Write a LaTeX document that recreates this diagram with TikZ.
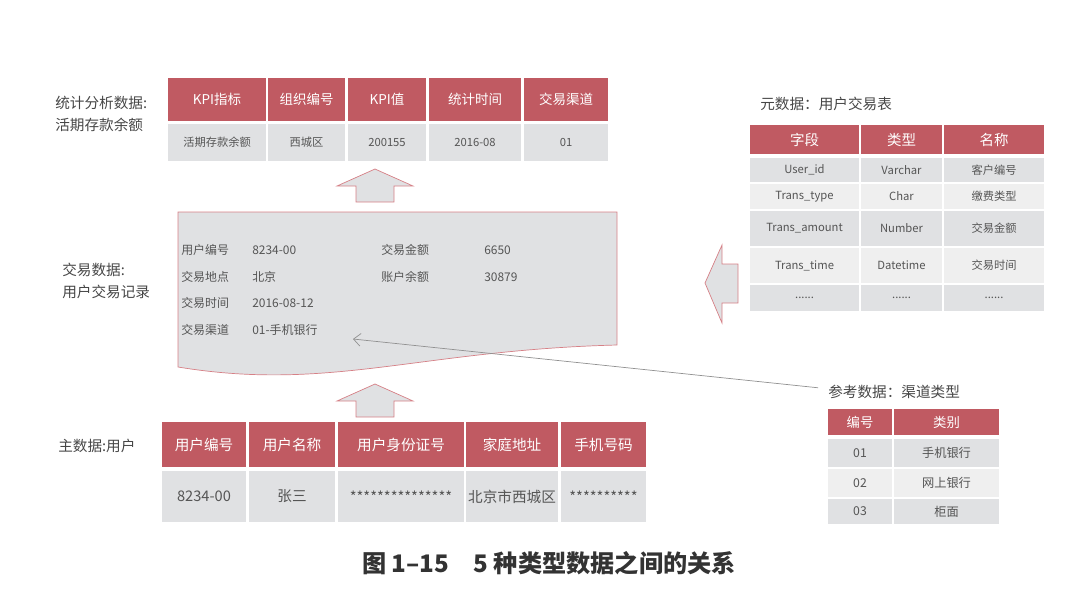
\documentclass[tikz,border=0pt]{standalone}
\usepackage{fontspec}
\setmainfont{Noto Sans CJK SC}
\usetikzlibrary{arrows.meta}
\definecolor{hdred}{RGB}{192,90,98}
\definecolor{cellgray}{RGB}{224,225,227}
\definecolor{celllight}{RGB}{239,239,239}
\definecolor{txtgray}{RGB}{85,85,85}
\definecolor{lblgray}{RGB}{70,70,70}
\definecolor{edgered}{RGB}{214,128,134}
\definecolor{linkgray}{RGB}{145,145,145}
\newcommand{\moredots}{......}

\begin{document}
\begin{tikzpicture}[x=0.025cm,y=-0.025cm,
  hd/.style={fill=hdred,text=white},
  dk/.style={fill=cellgray,text=txtgray},
  lt/.style={fill=celllight,text=txtgray},
  blockarrow/.style={draw=edgered,fill=cellgray,line width=0.5pt},
  lbl/.style={text=lblgray,align=left,inner sep=0pt,font=\fontsize{10.4}{15.6}\selectfont},
  doc/.style={text=txtgray,inner sep=0pt,font=\fontsize{8.5}{10}\selectfont},
  link/.style={draw=linkgray,line width=0.5pt,-{Straight Barb[length=5pt,width=9pt]}}]
\useasboundingbox (0,0) rectangle (1080,607);

% statistics
\node[lbl,anchor=west] (statlbl) at (55,114) {统计分析数据:\\活期存款余额};
\foreach \a/\b/\h/\d [count=\i] in {168/266/KPI指标/活期存款余额,268/345/组织编号/西城区,348/426/KPI值/200155,429/521/统计时间/2016-08,524/608/交易渠道/01}
{
  \path[hd] (\a,78) rectangle node[font=\fontsize{9.6}{10}\selectfont] (sh\i) {\h} (\b,121);
  \path[dk] (\a,124) rectangle node[font=\fontsize{8}{10}\selectfont] (sd\i) {\d} (\b,161);
}

% up arrows
\draw[blockarrow] (356,202) -- (356,186) -- (337,186) -- (375,169) -- (413,186) -- (394,186) -- (394,202) -- cycle;
\draw[blockarrow] (356,417) -- (356,401) -- (337,401) -- (375,384) -- (413,401) -- (394,401) -- (394,417) -- cycle;

% transaction record
\node[lbl,anchor=west] (translbl) at (62,281) {交易数据:\\用户交易记录};
\draw[draw=edgered,fill=cellgray,line width=0.5pt] (178,212) -- (617,212) -- (617,345) .. controls (420,350) and (330,392) .. (178,367) -- cycle;
\foreach \y/\k/\v [count=\i] in {250/用户编号/8234-00,277/交易地点/北京,303/交易时间/2016-08-12,330/交易渠道/01-手机银行}
{
  \node[doc,anchor=west] (tk\i) at (181,\y) {\k};
  \node[doc,anchor=west] (tv\i) at (252,\y) {\v};
}
\foreach \y/\k/\v [count=\i] in {250/交易金额/6650,277/账户余额/30879}
{
  \node[doc,anchor=west] (tk\i r) at (381,\y) {\k};
  \node[doc,anchor=west] (tv\i r) at (484,\y) {\v};
}
\coordinate (chan) at (353,339);

% left arrow
\draw[blockarrow] (738,264) -- (722,264) -- (722,245) -- (705,283) -- (722,323) -- (722,303) -- (738,303) -- cycle;

% meta data
\node[lbl,anchor=west] (metalbl) at (760,104) {元数据：用户交易表};
\foreach \a/\b/\h [count=\i] in {750/859/字段,861/942/类型,944/1044/名称}
  \path[hd] (\a,125) rectangle node[font=\fontsize{10.3}{12}\selectfont] (mh\i) {\h} (\b,154);
\foreach \y/\z/\s/\p/\q/\r [count=\j] in {158/182/dk/User\_id/Varchar/客户编号,184/209/lt/Trans\_type/Char/缴费类型,211/246/dk/Trans\_amount/Number/交易金额,248/283/lt/Trans\_time/Datetime/交易时间,285/311/dk/\moredots/\moredots/\moredots}
{
  \path[\s] (750,\y) rectangle node[font=\fontsize{8}{10}\selectfont] (mf\j) {\p} (859,\z);
  \path[\s] (861,\y) rectangle node[font=\fontsize{8}{10}\selectfont] (mt\j) {\q} (942,\z);
  \path[\s] (944,\y) rectangle node[font=\fontsize{8}{10}\selectfont] (mn\j) {\r} (1044,\z);
}

% reference data
\node[lbl,anchor=west] (reflbl) at (828,392) {参考数据：渠道类型};
\path[hd] (828,409) rectangle node[font=\fontsize{9.5}{11}\selectfont] (rh1) {编号} (892,435);
\path[hd] (894,409) rectangle node[font=\fontsize{9.5}{11}\selectfont] (rh2) {类别} (999,435);
\foreach \y/\z/\s/\c/\n [count=\j] in {439/467/dk/01/手机银行,469/497/lt/02/网上银行,499/524/dk/03/柜面}
{
  \path[\s] (828,\y) rectangle node[font=\fontsize{8.7}{10}\selectfont] (rc\j) {\c} (892,\z);
  \path[\s] (894,\y) rectangle node[font=\fontsize{8.7}{10}\selectfont] (rn\j) {\n} (999,\z);
}
\draw[link] ([xshift=-7pt,yshift=3pt]reflbl.west) -- (chan);

% master data
\node[lbl,anchor=west] (mainlbl) at (58,446) {主数据:用户};
\foreach \a/\b/\h/\d [count=\i] in {162/246/用户编号/8234-00,249/335/用户名称/张三,338/464/用户身份证号/***************,466/558/家庭地址/北京市西城区,561/646/手机号码/**********}
{
  \path[hd] (\a,422) rectangle node[font=\fontsize{10.4}{12}\selectfont] (uh\i) {\h} (\b,467);
  \path[dk] (\a,471) rectangle node[font=\fontsize{10.4}{12}\selectfont] (ud\i) {\d} (\b,522);
}

\node[text=black!80,font=\fontsize{17.2}{19}\selectfont\bfseries] (caption) at (549,563) {图 1–15\hspace{1em}5 种类型数据之间的关系};
\end{tikzpicture}
\end{document}
